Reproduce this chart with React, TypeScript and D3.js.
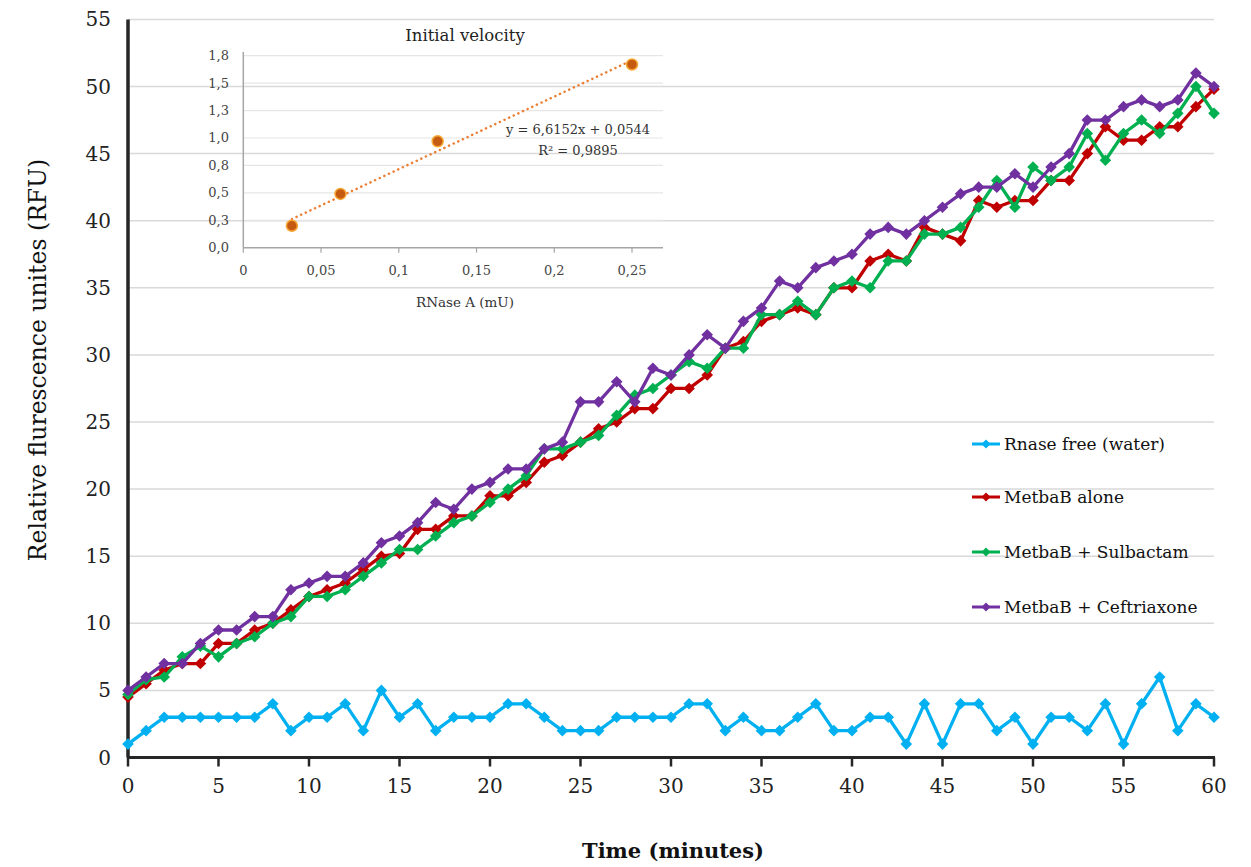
import React, { useEffect, useRef } from 'react';
import * as d3 from 'd3';

const minutes = [0, 1, 2, 3, 4, 5, 6, 7, 8, 9, 10, 11, 12, 13, 14, 15, 16, 17, 18, 19, 20,
  21, 22, 23, 24, 25, 26, 27, 28, 29, 30, 31, 32, 33, 34, 35, 36, 37, 38, 39, 40,
  41, 42, 43, 44, 45, 46, 47, 48, 49, 50, 51, 52, 53, 54, 55, 56, 57, 58, 59, 60];

const water = [1, 2, 3, 3, 3, 3, 3, 3, 4, 2, 3, 3, 4, 2, 5, 3, 4, 2, 3, 3, 3,
  4, 4, 3, 2, 2, 2, 3, 3, 3, 3, 4, 4, 2, 3, 2, 2, 3, 4, 2, 2,
  3, 3, 1, 4, 1, 4, 4, 2, 3, 1, 3, 3, 2, 4, 1, 4, 6, 2, 4, 3];

const alone = [4.5, 5.5, 6.5, 7, 7, 8.5, 8.5, 9.5, 10, 11, 12, 12.5, 13, 14, 15, 15.2, 17, 17, 18, 18, 19.5,
  19.5, 20.5, 22, 22.5, 23.5, 24.5, 25, 26, 26, 27.5, 27.5, 28.5, 30.5, 31, 32.5, 33, 33.5, 33, 35, 35,
  37, 37.5, 37, 39.5, 39, 38.5, 41.5, 41, 41.5, 41.5, 43, 43, 45, 47, 46, 46, 47, 47, 48.5, 49.8];

const sulbactam = [4.7, 5.8, 6, 7.5, 8.3, 7.5, 8.5, 9, 10, 10.5, 12, 12, 12.5, 13.5, 14.5, 15.5, 15.5, 16.5, 17.5, 18, 19,
  20, 21, 23, 23, 23.5, 24, 25.5, 27, 27.5, 28.5, 29.5, 29, 30.5, 30.5, 33, 33, 34, 33, 35, 35.5,
  35, 37, 37, 39, 39, 39.5, 41, 43, 41, 44, 43, 44, 46.5, 44.5, 46.5, 47.5, 46.5, 48, 50, 48];

const ceftriaxone = [5, 6, 7, 7, 8.5, 9.5, 9.5, 10.5, 10.5, 12.5, 13, 13.5, 13.5, 14.5, 16, 16.5, 17.5, 19, 18.5, 20, 20.5,
  21.5, 21.5, 23, 23.5, 26.5, 26.5, 28, 26.5, 29, 28.5, 30, 31.5, 30.5, 32.5, 33.5, 35.5, 35, 36.5, 37, 37.5,
  39, 39.5, 39, 40, 41, 42, 42.5, 42.5, 43.5, 42.5, 44, 45, 47.5, 47.5, 48.5, 49, 48.5, 49, 51, 50];

const seriesNames = ['Rnase free (water)', 'MetbaB alone', 'MetbaB + Sulbactam', 'MetbaB + Ceftriaxone'];
const seriesColors = ['#00b0f0', '#c00000', '#00b050', '#7030a0'];
const yTicks = [0, 5, 10, 15, 20, 25, 30, 35, 40, 45, 50, 55];
const xTicks = [0, 5, 10, 15, 20, 25, 30, 35, 40, 45, 50, 55, 60];

// inset : initial velocity
const insetDose = [0.03125, 0.0625, 0.125, 0.25];
const insetVelocity = [0.2, 0.49, 0.97, 1.67];
const insetYTicks = [0, 0.25, 0.5, 0.75, 1, 1.25, 1.5, 1.75];
const insetYLabels = ['0,0', '0,3', '0,5', '0,8', '1,0', '1,3', '1,5', '1,8'];
const insetXTicks = [0, 0.05, 0.1, 0.15, 0.2, 0.25];
const insetXLabels = ['0', '0,05', '0,1', '0,15', '0,2', '0,25'];
const slope = 6.6152;
const intercept = 0.0544;

const FONT = '"DejaVu Serif", serif';
const diamond = (r: number) => `M0,${-r}L${r},0L0,${r}L${-r},0Z`;

const App = () => {
  const svgRef = useRef<SVGSVGElement>(null);

  useEffect(() => {
    const width = 1251;
    const height = 867;
    const svg = d3.select(svgRef.current);
    svg.selectAll('*').remove();
    svg.attr('width', width).attr('height', height).style('font-family', FONT);

    const x = d3.scaleLinear().domain([0, 60]).range([128, 1214]);
    const y = d3.scaleLinear().domain([0, 55]).range([757.5, 19.4]);

    // gridlines
    svg.append('g').selectAll('line').data(yTicks.slice(1)).join('line')
      .attr('x1', x(0)).attr('x2', x(60))
      .attr('y1', d => y(d)).attr('y2', d => y(d))
      .attr('stroke', '#d9d9d9').attr('stroke-width', 1.5);

    // y labels
    svg.append('g').selectAll('text').data(yTicks).join('text')
      .attr('x', 111).attr('y', d => y(d))
      .attr('text-anchor', 'end').attr('dominant-baseline', 'central')
      .style('font-size', '20px').style('fill', '#222')
      .text(d => d);

    // x axis + ticks
    svg.append('line').attr('x1', x(0) - 1).attr('x2', x(60) + 1)
      .attr('y1', y(0)).attr('y2', y(0)).attr('stroke', '#262626').attr('stroke-width', 3);
    svg.append('line').attr('x1', x(0)).attr('x2', x(0))
      .attr('y1', y(55)).attr('y2', y(0)).attr('stroke', '#262626').attr('stroke-width', 3.5);
    svg.append('g').selectAll('line').data(xTicks).join('line')
      .attr('x1', d => x(d)).attr('x2', d => x(d))
      .attr('y1', y(0)).attr('y2', y(0) + 9)
      .attr('stroke', '#262626').attr('stroke-width', 2.5);
    svg.append('g').selectAll('text').data(xTicks).join('text')
      .attr('x', d => x(d)).attr('y', 786)
      .attr('text-anchor', 'middle').attr('dominant-baseline', 'central')
      .style('font-size', '20px').style('fill', '#222')
      .text(d => d);

    // axis titles
    svg.append('text')
      .attr('transform', 'translate(38,360) rotate(-90)')
      .attr('text-anchor', 'middle').attr('dominant-baseline', 'central')
      .style('font-size', '23.5px').style('fill', '#111')
      .text('Relative flurescence unites (RFU)');
    svg.append('text')
      .attr('x', 673).attr('y', 850)
      .attr('text-anchor', 'middle').attr('dominant-baseline', 'central')
      .style('font-size', '21px').style('font-weight', 'bold').style('fill', '#111')
      .text('Time (minutes)');

    // ---- inset ----
    const ix = d3.scaleLinear().domain([0, 0.25]).range([243.3, 632]);
    const iy = d3.scaleLinear().domain([0, 1.75]).range([247.7, 55.7]);
    const inset = svg.append('g');
    inset.append('g').selectAll('line').data(insetYTicks.slice(1)).join('line')
      .attr('x1', ix(0)).attr('x2', 663)
      .attr('y1', d => iy(d)).attr('y2', d => iy(d))
      .attr('stroke', '#e6e6e6').attr('stroke-width', 1.2);
    inset.append('line').attr('x1', ix(0)).attr('x2', 663)
      .attr('y1', iy(0)).attr('y2', iy(0)).attr('stroke', '#a6a6a6').attr('stroke-width', 1.5);
    inset.append('line').attr('x1', ix(0)).attr('x2', ix(0))
      .attr('y1', 52).attr('y2', iy(0)).attr('stroke', '#a6a6a6').attr('stroke-width', 1.5);
    inset.append('g').selectAll('line').data(insetXTicks).join('line')
      .attr('x1', d => ix(d)).attr('x2', d => ix(d))
      .attr('y1', iy(0)).attr('y2', iy(0) + 5)
      .attr('stroke', '#a6a6a6').attr('stroke-width', 1.2);
    inset.append('g').selectAll('text').data(insetYTicks).join('text')
      .attr('x', 229).attr('y', d => iy(d))
      .attr('text-anchor', 'end').attr('dominant-baseline', 'central')
      .style('font-size', '13px').style('fill', '#444')
      .text((d, i) => insetYLabels[i]);
    inset.append('g').selectAll('text').data(insetXTicks).join('text')
      .attr('x', d => ix(d)).attr('y', 270)
      .attr('text-anchor', 'middle').attr('dominant-baseline', 'central')
      .style('font-size', '13px').style('fill', '#444')
      .text((d, i) => insetXLabels[i]);
    inset.append('text').attr('x', 465).attr('y', 35)
      .attr('text-anchor', 'middle').attr('dominant-baseline', 'central')
      .style('font-size', '16.5px').style('fill', '#222')
      .text('Initial velocity');
    inset.append('text').attr('x', 465).attr('y', 302)
      .attr('text-anchor', 'middle').attr('dominant-baseline', 'central')
      .style('font-size', '13.5px').style('fill', '#333')
      .text('RNase A (mU)');

    const x0 = insetDose[0];
    const x1 = insetDose[insetDose.length - 1];
    inset.append('line')
      .attr('x1', ix(x0)).attr('y1', iy(slope * x0 + intercept))
      .attr('x2', ix(x1)).attr('y2', iy(slope * x1 + intercept))
      .attr('stroke', '#ed7d31').attr('stroke-width', 2.5)
      .attr('stroke-dasharray', '0.1 5').attr('stroke-linecap', 'round');
    inset.append('g').selectAll('circle').data(insetDose).join('circle')
      .attr('cx', d => ix(d)).attr('cy', (d, i) => iy(insetVelocity[i]))
      .attr('r', 5.5)
      .attr('fill', '#c55a11').attr('stroke', '#f7a836').attr('stroke-width', 1.5);
    inset.append('text').attr('x', 578).attr('y', 129)
      .attr('text-anchor', 'middle').attr('dominant-baseline', 'central')
      .style('font-size', '13px').style('fill', '#333')
      .text('y = 6,6152x + 0,0544');
    inset.append('text').attr('x', 578).attr('y', 150)
      .attr('text-anchor', 'middle').attr('dominant-baseline', 'central')
      .style('font-size', '13px').style('fill', '#333')
      .text('R² = 0,9895');

    // ---- series ----
    const allSeries = [water, alone, sulbactam, ceftriaxone];
    const line = d3.line<number>().x((d, i) => x(minutes[i])).y(d => y(d));
    allSeries.forEach((values, s) => {
      const g = svg.append('g');
      g.append('path').datum(values)
        .attr('d', line)
        .attr('fill', 'none').attr('stroke', seriesColors[s])
        .attr('stroke-width', 3.3).attr('stroke-linejoin', 'round');
      g.selectAll('path.m').data(values).join('path')
        .attr('class', 'm')
        .attr('transform', (d, i) => `translate(${x(minutes[i])},${y(d)})`)
        .attr('d', diamond(5.8))
        .attr('fill', seriesColors[s]);
    });

    // ---- legend ----
    const legendY = [444, 497, 552, 607];
    const legend = svg.append('g');
    seriesNames.forEach((name, s) => {
      const ly = legendY[s];
      legend.append('line').attr('x1', 972).attr('x2', 1000)
        .attr('y1', ly).attr('y2', ly)
        .attr('stroke', seriesColors[s]).attr('stroke-width', 3);
      legend.append('path').attr('transform', `translate(986,${ly})`)
        .attr('d', diamond(4.5)).attr('fill', seriesColors[s]);
      legend.append('text').attr('x', 1004).attr('y', ly)
        .attr('dominant-baseline', 'central')
        .style('font-size', '17px').style('fill', '#111')
        .text(name);
    });
  }, []);

  return (
    <div style={{ position: 'absolute', left: 0, top: 0, background: '#fff' }}>
      <svg ref={svgRef}></svg>
    </div>
  );
};

export default App;
